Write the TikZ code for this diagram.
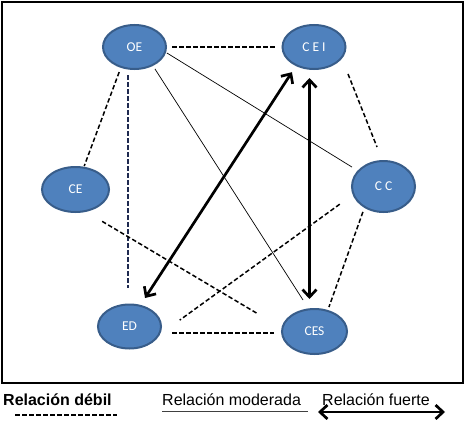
\documentclass[tikz,border=0pt]{standalone}
\usepackage{fontspec}
\setmainfont{Liberation Sans}
\newfontfamily\bubblefont{Carlito}
\usepackage{xcolor}
\usepackage{tikz}
\usetikzlibrary{shapes.geometric,arrows.meta,positioning}
\definecolor{bubblefill}{HTML}{4F81BD}
\definecolor{bubbleline}{HTML}{385D8A}
\definecolor{navydash}{HTML}{1F2A50}

\begin{document}
\begin{tikzpicture}[x=1pt,y=-1pt,
        ent/.style={ellipse, draw=bubbleline, line width=2pt, fill=bubblefill, text=white,
            inner sep=0pt, minimum width=63pt, minimum height=44pt,
            font=\bubblefont\fontsize{13.5}{15}\selectfont},
        weak/.style={line width=1.5pt, dash pattern=on 4.5pt off 2.5pt},
        moderate/.style={line width=0.7pt},
        strong/.style={line width=2.7pt, <->},
        legend/.style={anchor=base west, inner sep=0pt, font=\fontsize{16}{18}\selectfont},
        >={Straight Barb[length=7.5pt,width=14pt]}]
        \useasboundingbox (0,0) rectangle (465,420);

        % Frame
        \draw[line width=1.5pt] (2,2) rectangle (463,383);

        % Entities
        \node[ent] (OE) at (134.5,47) {OE};
        \node[ent] (CEI) at (314,47) {C E I};
        \node[ent, minimum width=67pt, minimum height=45pt] (CE) at (75.5,189.5) {CE};
        \node[ent, minimum height=51pt] (CC) at (383.5,186.5) {C C};
        \node[ent] (ED) at (129.5,326.5) {ED};
        \node[ent, minimum width=65pt, minimum height=45pt] (CES) at (314.5,331.5) {CES};

        % Weak relations
        \draw[weak, shorten <=37.5pt, shorten >=39pt] (OE.center) -- (CEI.center);
        \draw[weak, shorten <=26.7pt, shorten >=25pt] ([xshift=-6pt]OE.center) -- (CE.center);
        \draw[weak, navydash, line width=1.3pt, shorten <=28pt, shorten >=38.5pt] ([xshift=-6.5pt]OE.center) -- ([xshift=-1.5pt]ED.center);
        \draw[weak, shorten <=29pt, shorten >=42.5pt] ([xshift=23.3pt]CEI.center) -- ([xshift=9.2pt]CC.center);
        \draw[weak, shorten <=31pt, shorten >=66pt] ([yshift=-16pt]CE.center) -- ([yshift=-16pt]CES.center);
        \draw[weak, shorten <=54pt, shorten >=62pt] ([yshift=14pt]CC.center) -- ([yshift=-30pt]ED.center);
        \draw[weak, shorten <=27pt, shorten >=26pt] ([xshift=-11.5pt]CC.center) -- ([xshift=5.7pt]CES.center);
        \draw[weak, shorten <=42.5pt, shorten >=40.5pt] ([yshift=-6.5pt]ED.center) -- ([yshift=-1.5pt]CES.center);

        % Moderate relations
        \draw[moderate, shorten <=26pt, shorten >=37.4pt] ([xshift=6.4pt]OE.center) -- ([xshift=8.7pt]CES.center);
        \draw[moderate, shorten <=38pt, shorten >=37pt] ([yshift=14pt]OE.center) -- (CC.center);

        % Strong relations
        \draw[strong, shorten <=30pt, shorten >=34pt] ([xshift=-5.7pt]CEI.center) -- ([xshift=-3pt]ED.center);
        \draw[strong, shorten <=31pt, shorten >=32.5pt] ([xshift=-4.5pt]CEI.center) -- ([xshift=-5pt]CES.center);

        % Legend
        \node[legend, font=\bfseries\fontsize{16}{18}\selectfont] (ldebil) at (3,405) {Relación débil};
        \node[legend] (lmoderada) at (162,405) {Relación moderada};
        \node[legend] (lfuerte) at (322,405) {Relación fuerte};
        \draw[weak] (15,415) -- (117,415);
        \draw[line width=1pt, black!75] (162,411) -- (308,411);
        \draw[strong] (318,412) -- (445,412);
    \end{tikzpicture}
\end{document}
